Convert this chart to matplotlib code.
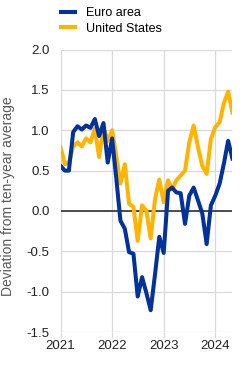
import numpy as np
import pandas as pd
import matplotlib
matplotlib.use("Agg")
import matplotlib.pyplot as plt
import matplotlib.dates as mdates

plt.rcParams['font.family'] = ['Liberation Sans', 'DejaVu Sans']

# monthly, Jan 2021 - May 2024
dates = pd.date_range("2021-01-01", "2024-05-01", freq="MS")

euro_area = [0.56, 0.50, 0.50, 0.98, 1.05, 1.01, 1.06, 1.03, 1.14, 0.93, 1.09, 0.60,
             0.90, 0.38, -0.12, -0.22, -0.51, -0.53, -1.06, -0.82, -1.02, -1.23, -0.78, -0.32,
             -0.52, 0.25, 0.29, 0.23, 0.22, -0.16, 0.19, 0.29, 0.13, -0.03, -0.41, 0.07,
             0.19, 0.34, 0.58, 0.87, 0.65]
united_states = [0.79, 0.58, 0.60, 0.80, 0.85, 0.80, 0.90, 0.85, 1.02, 0.67, 1.04, 0.87,
                 1.00, 0.67, 0.34, 0.58, 0.09, 0.05, -0.37, 0.07, 0.00, -0.34, 0.15, 0.39,
                 0.11, 0.38, 0.27, 0.38, 0.44, 0.50, 0.85, 1.06, 0.79, 0.56, 0.46, 0.89,
                 1.04, 1.10, 1.33, 1.48, 1.22]

labels = ["Euro area", "United States"]
colors = ["#003299", "#ffb400"]

fig = plt.figure(figsize=(2.48, 3.76), dpi=100)
ax = fig.add_axes([0.244, 0.117, 0.693, 0.751])

ax.plot(dates, euro_area, color=colors[0], lw=2.9, label=labels[0], zorder=3)
ax.plot(dates, united_states, color=colors[1], lw=2.9, label=labels[1], zorder=2)
ax.axhline(0, color="#404040", lw=1.3, zorder=1)

ax.set_ylim(-1.5, 2.0)
ax.set_yticks(np.arange(-1.5, 2.01, 0.5))
ax.yaxis.set_major_formatter(plt.FormatStrFormatter('%.1f'))
ax.set_xlim(dates[0], dates[-1])
ax.xaxis.set_major_locator(mdates.YearLocator())
ax.xaxis.set_major_formatter(mdates.DateFormatter('%Y'))

ax.grid(True, color="#d9d9d9", lw=0.9)
ax.set_axisbelow(True)
for s in ax.spines.values():
    s.set_visible(False)
ax.tick_params(axis='y', length=0, pad=8, labelsize=9.5, labelcolor="#222222")
ax.tick_params(axis='x', length=4, color="#d9d9d9", width=0.9, pad=1.5, labelsize=9.5, labelcolor="#222222")

ax.set_ylabel("Deviation from ten-year average", fontsize=10, color="#595959")
ax.yaxis.set_label_coords(-0.265, 0.48)

ax.legend(loc="upper left", bbox_to_anchor=(0.22, 1.0), bbox_transform=fig.transFigure,
          frameon=False, fontsize=9, handlelength=1.1, handletextpad=0.85,
          labelspacing=0.3, borderaxespad=0.15)

fig.savefig("out.png", dpi=100)
